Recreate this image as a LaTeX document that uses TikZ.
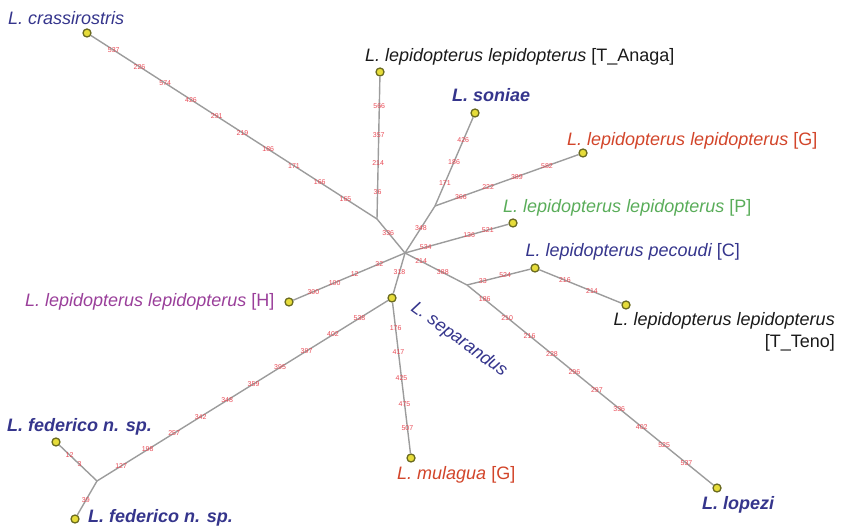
\documentclass[tikz,border=0pt]{standalone}
\usepackage{fontspec}
\setmainfont{Liberation Sans}
\definecolor{taxblue}{HTML}{35358C}
\definecolor{taxred}{HTML}{D2452A}
\definecolor{taxgreen}{HTML}{5AAD5A}
\definecolor{taxpurple}{HTML}{9A3F9A}
\definecolor{taxblack}{HTML}{1A1A1A}
\definecolor{mutred}{HTML}{E84A55}
\definecolor{branchgray}{HTML}{9C9C9C}
\definecolor{dotfill}{HTML}{E6DC3A}
\definecolor{dotedge}{HTML}{6B6B20}
\tikzset{
  tip/.style={circle, fill=dotfill, draw=dotedge, line width=1.3pt, minimum size=8pt, inner sep=0pt},
  branch/.style={draw=branchgray, line width=1.4pt},
  mut/.style={text=mutred, font=\fontsize{7}{8}\selectfont, inner sep=0.5pt},
  lab/.style={font=\fontsize{18}{20}\selectfont, inner sep=0pt, anchor=base west},
  blab/.style={lab, font=\fontsize{18}{20}\selectfont\bfseries},
}
\begin{document}
\begin{tikzpicture}[x=1pt, y=-1pt]
\useasboundingbox (0,0) rectangle (841,526);

% inner junctions of the network
\coordinate (j1) at (377,219);
\coordinate (o)  at (405,253);
\coordinate (j2) at (435,206);
\coordinate (j3) at (467,285);
\coordinate (j4) at (97,481);

% sampled haplotypes
\node[tip] (crass) at (87,33) {};
\node[tip] (anaga) at (380,72) {};
\node[tip] (soni)  at (475,113) {};
\node[tip] (gom)   at (583,153) {};
\node[tip] (pal)   at (513,223) {};
\node[tip] (peco)  at (535,268) {};
\node[tip] (teno)  at (626,305) {};
\node[tip] (hie)   at (289,302) {};
\node[tip] (sepa)  at (392,298) {};
\node[tip] (mula)  at (411,458) {};
\node[tip] (lope)  at (717,488) {};
\node[tip] (fed1)  at (56,442) {};
\node[tip] (fed2)  at (75,519) {};

% branches with their mutation positions
\path[branch] (crass) -- node[mut,pos=.08]{537} node[mut,pos=.17]{226} node[mut,pos=.26]{574}
  node[mut,pos=.35]{426} node[mut,pos=.44]{291} node[mut,pos=.53]{219} node[mut,pos=.62]{186}
  node[mut,pos=.71]{171} node[mut,pos=.80]{166} node[mut,pos=.89]{165} (j1);
\path[branch] (j1) -- node[mut,pos=.4]{336} (o);
\path[branch] (anaga) -- node[mut,pos=.21]{566} node[mut,pos=.41]{357} node[mut,pos=.61]{214}
  node[mut,pos=.81]{36} (j1);
\path[branch] (soni) -- node[mut,pos=.26]{426} node[mut,pos=.5]{186} node[mut,pos=.74]{171} (j2);
\path[branch] (j2) -- node[mut,pos=.47]{348} (o);
\path[branch] (o) -- node[mut,pos=.47]{318} (sepa);
\path[branch] (j2) -- node[mut,pos=.18]{366} node[mut,pos=.37]{222} node[mut,pos=.57]{389}
  node[mut,pos=.78]{582} (gom);
\path[branch] (o) -- node[mut,pos=.2]{534} node[mut,pos=.62]{136} node[mut,pos=.8]{521} (pal);
\path[branch] (o) -- node[mut,pos=.23]{32} node[mut,pos=.45]{12} node[mut,pos=.63]{100}
  node[mut,pos=.82]{300} (hie);
\path[branch] (o) -- node[mut,pos=.26]{214} node[mut,pos=.61]{388} (j3);
\path[branch] (j3) -- node[mut,pos=.072]{186} node[mut,pos=.163]{210} node[mut,pos=.254]{216}
  node[mut,pos=.345]{228} node[mut,pos=.436]{296} node[mut,pos=.527]{297} node[mut,pos=.618]{336}
  node[mut,pos=.709]{402} node[mut,pos=.80]{525} node[mut,pos=.891]{537} (lope);
\path[branch] (j3) -- node[mut,pos=.25]{33} node[mut,pos=.6]{524} (peco);
\path[branch] (peco) -- node[mut,pos=.31]{216} node[mut,pos=.64]{214} (teno);
\path[branch] (sepa) -- node[mut,pos=.098]{538} node[mut,pos=.189]{402} node[mut,pos=.28]{397}
  node[mut,pos=.371]{395} node[mut,pos=.462]{359} node[mut,pos=.553]{348} node[mut,pos=.644]{342}
  node[mut,pos=.735]{257} node[mut,pos=.826]{198} node[mut,pos=.917]{127} (j4);
\path[branch] (sepa) -- node[mut,pos=.17]{176} node[mut,pos=.33]{417} node[mut,pos=.5]{425}
  node[mut,pos=.67]{475} node[mut,pos=.83]{507} (mula);
\path[branch] (j4) -- node[mut,pos=.46]{3} node[mut,pos=.73]{12} (fed1);
\path[branch] (j4) -- node[mut,pos=.57]{39} (fed2);

% taxon names
\node[lab, text=taxblue] (tcrass) at (8,25) {\itshape L. crassirostris};
\node[lab, text=taxblack] (tanaga) at (365,62) {\itshape L. lepidopterus lepidopterus \upshape[T\_Anaga]};
\node[blab, text=taxblue] (tsoni) at (452,102) {\itshape L. soniae};
\node[lab, text=taxred] (tgom) at (567,146) {\itshape L. lepidopterus lepidopterus \upshape[G]};
\node[lab, text=taxgreen] (tpal) at (503,213) {\itshape L. lepidopterus lepidopterus \upshape[P]};
\node[lab, text=taxblue, anchor=base east] (tpeco) at (740,257) {\itshape L. lepidopterus pecoudi \upshape[C]};
\node[lab, text=taxblack, anchor=base east] (tteno1) at (835,326) {\itshape L. lepidopterus lepidopterus};
\node[lab, text=taxblack, anchor=base east] (tteno2) at (835,348) {[T\_Teno]};
\node[lab, text=taxpurple] (thie) at (25,307) {\itshape L. lepidopterus lepidopterus \upshape[H]};
\node[lab, text=taxblue, rotate=-36] (tsepa) at (410,310) {\itshape L. separandus};
\node[lab, text=taxred] (tmula) at (397,479) {\itshape L. mulagua \upshape[G]};
\node[blab, text=taxblue] (tlope) at (702,509) {\itshape L. lopezi};
\node[blab, text=taxblue] (tfed1) at (7,432) {\itshape L. federico n. sp.};
\node[blab, text=taxblue] (tfed2) at (88,522) {\itshape L. federico n. sp.};
\end{tikzpicture}
\end{document}
